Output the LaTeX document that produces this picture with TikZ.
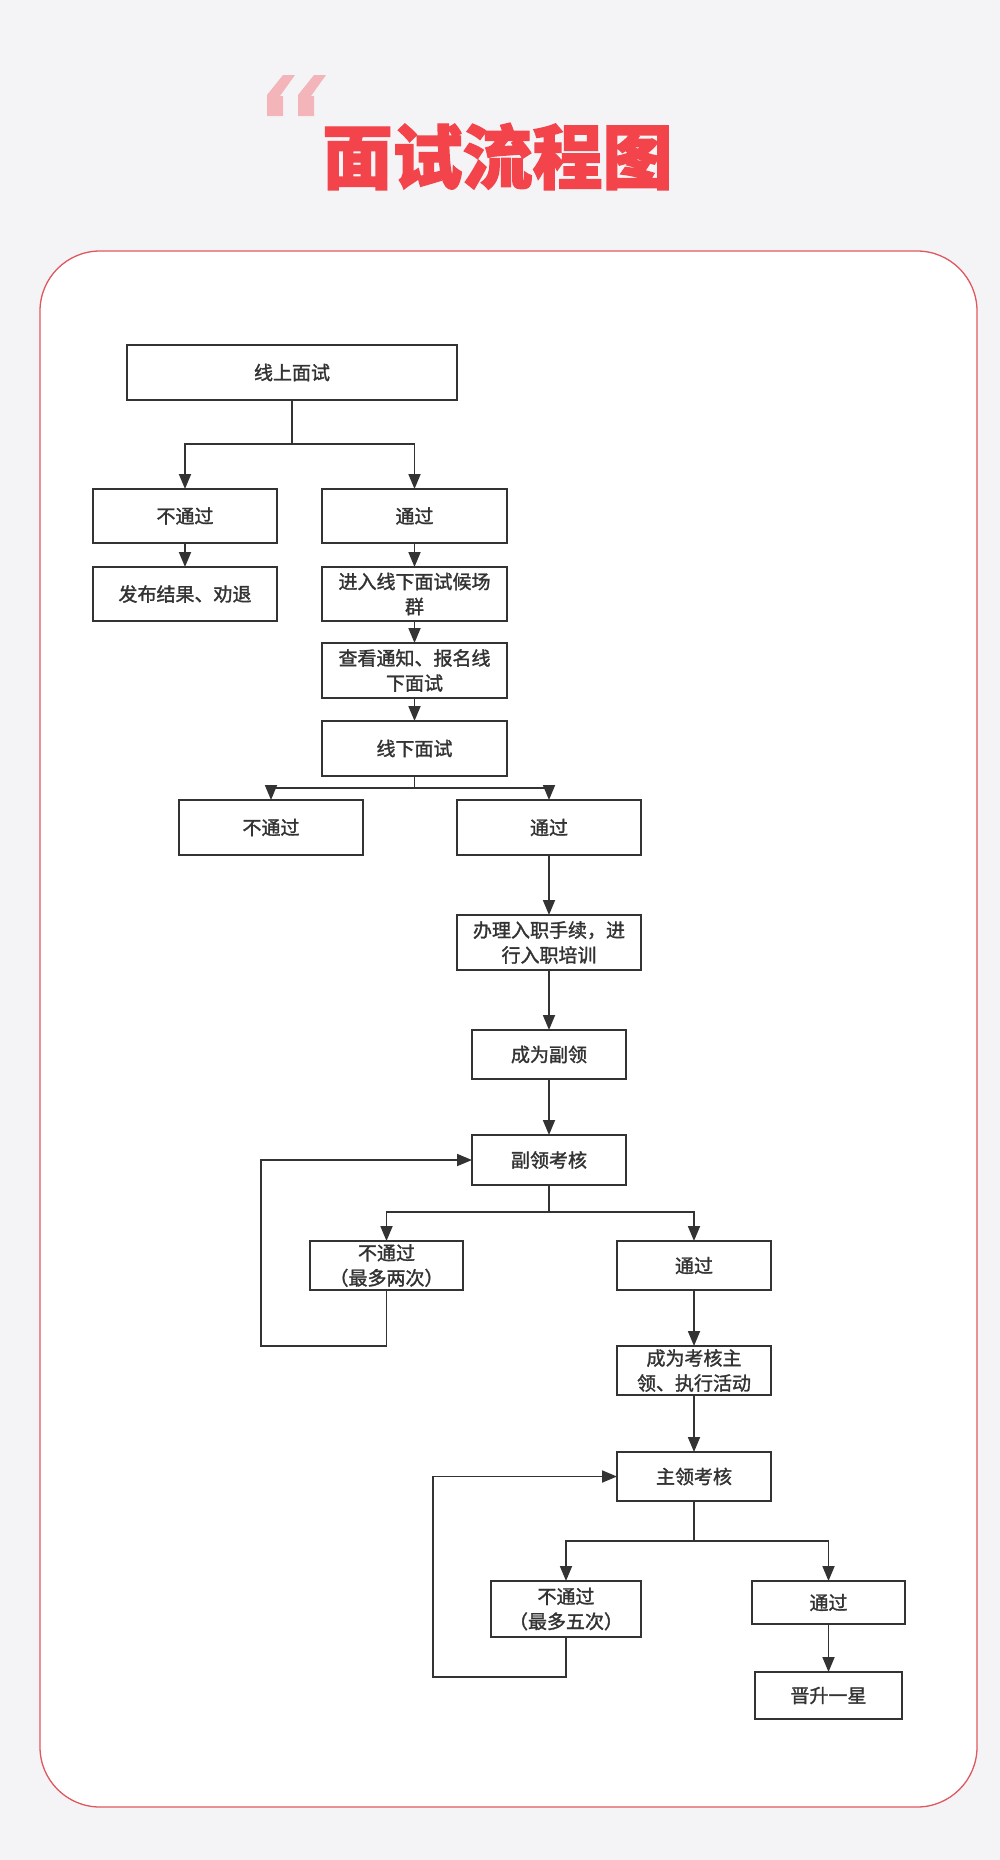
\documentclass[tikz,border=0pt]{standalone}
\usepackage{fontspec}
\setmainfont{Noto Sans CJK SC}
\newfontfamily\boxfont{Noto Sans CJK SC}[FakeBold=1.5]
\newfontfamily\titlefont{Noto Sans CJK SC}[FakeBold=2]
\usetikzlibrary{arrows.meta}
\definecolor{bgc}{HTML}{F4F4F6}
\definecolor{panelred}{HTML}{E0585E}
\definecolor{titlered}{HTML}{F2444A}
\definecolor{quotepink}{HTML}{F4B5BA}
\definecolor{ink}{HTML}{333333}
\tikzset{
  box/.style={draw=ink, line width=1.8pt, fill=white, inner sep=0pt, outer sep=0pt,
    align=center, text=ink, font=\boxfont\fontsize{19}{25}\selectfont},
  arr/.style={draw=ink, line width=1.8pt, -{Triangle[width=12pt,length=15pt]}},
  ln/.style={draw=ink, line width=1.8pt},
}
\begin{document}
\begin{tikzpicture}[x=1pt,y=-1pt]
\useasboundingbox (0,0) rectangle (1000,1860);
\fill[bgc] (0,0) rectangle (1000,1860);
% panel
\draw[panelred, line width=1.3pt, fill=white, rounded corners=60pt] (40,251) rectangle (977,1807);
% quote marks
\foreach \dx in {0,31}{
  \fill[quotepink, shift={(\dx,0)}] (267,116) -- (283,116) -- (283,96) -- (280,96) -- (295,75) -- (283,75) -- (267,95) -- cycle;
}
% title
\node[inner sep=0pt, text=titlered, font=\titlefont\bfseries\fontsize{70}{70}\selectfont] (title) at (497.5,156.5) {面试流程图};

% nodes
\node[box, line width=2.8pt, minimum width=330pt, minimum height=55pt] (n1) at (292,372.5) {线上面试};
\node[box, minimum width=184pt, minimum height=54pt] (no1) at (185,516) {不通过};
\node[box, minimum width=185pt, minimum height=54pt] (yes1) at (414.5,516) {通过};
\node[box, minimum width=184pt, minimum height=54pt] (res1) at (185,594) {发布结果、劝退};
\node[box, minimum width=185pt, minimum height=54pt] (grp) at (414.5,594) {进入线下面试候场\\群};
\node[box, minimum width=185pt, minimum height=55pt] (chk) at (414.5,670.5) {查看通知、报名线\\下面试};
\node[box, minimum width=185pt, minimum height=55pt] (off) at (414.5,748.5) {线下面试};
\node[box, minimum width=184pt, minimum height=55pt] (no2) at (271,827.5) {不通过};
\node[box, minimum width=184pt, minimum height=55pt] (yes2) at (549,827.5) {通过};
\node[box, minimum width=184pt, minimum height=55pt] (onb) at (549,942.5) {办理入职手续，进\\行入职培训};
\node[box, minimum width=154pt, minimum height=49pt] (vice) at (549,1054.5) {成为副领};
\node[box, minimum width=154pt, minimum height=50pt] (vchk) at (549,1160) {副领考核};
\node[box, minimum width=153pt, minimum height=49pt] (no3) at (386.5,1265.5) {不通过\\（最多两次）};
\node[box, minimum width=154pt, minimum height=49pt] (yes3) at (694,1265.5) {通过};
\node[box, minimum width=154pt, minimum height=49pt] (lead) at (694,1370.5) {成为考核主\\领、执行活动};
\node[box, minimum width=154pt, minimum height=49pt] (lchk) at (694,1476.5) {主领考核};
\node[box, minimum width=150pt, minimum height=56pt] (no4) at (566,1609) {不通过\\（最多五次）};
\node[box, minimum width=153pt, minimum height=43pt] (yes4) at (828.5,1602.5) {通过};
\node[box, minimum width=147pt, minimum height=47pt] (star) at (828.5,1695.5) {晋升一星};

% junction coordinates
\coordinate (j1) at (292,444);
\coordinate (j2) at (414.5,788);
\coordinate (j3) at (549,1212);
\coordinate (j4) at (694,1541);
\coordinate (l1) at (261,1346);
\coordinate (l2) at (433,1677);

% connectors
\draw[ln] (n1.south) -- (j1);
\draw[arr] (j1) -| (no1.north);
\draw[arr] (j1) -| (yes1.north);
\draw[arr] (no1.south) -- (res1.north);
\draw[arr] (yes1.south) -- (grp.north);
\draw[arr] (grp.south) -- (chk.north);
\draw[arr] (chk.south) -- (off.north);
\draw[ln] (off.south) -- (j2);
\draw[arr] (j2) -| (no2.north);
\draw[arr] (j2) -| (yes2.north);
\draw[arr] (yes2.south) -- (onb.north);
\draw[arr] (onb.south) -- (vice.north);
\draw[arr] (vice.south) -- (vchk.north);
\draw[ln] (vchk.south) -- (j3);
\draw[arr] (j3) -| (no3.north);
\draw[arr] (j3) -| (yes3.north);
\draw[arr] (no3.south) |- (l1) |- (vchk.west);
\draw[arr] (yes3.south) -- (lead.north);
\draw[arr] (lead.south) -- (lchk.north);
\draw[ln] (lchk.south) -- (j4);
\draw[arr] (j4) -| (no4.north);
\draw[arr] (j4) -| (yes4.north);
\draw[arr] (no4.south) |- (l2) |- (lchk.west);
\draw[arr] (yes4.south) -- (star.north);
\end{tikzpicture}
\end{document}
